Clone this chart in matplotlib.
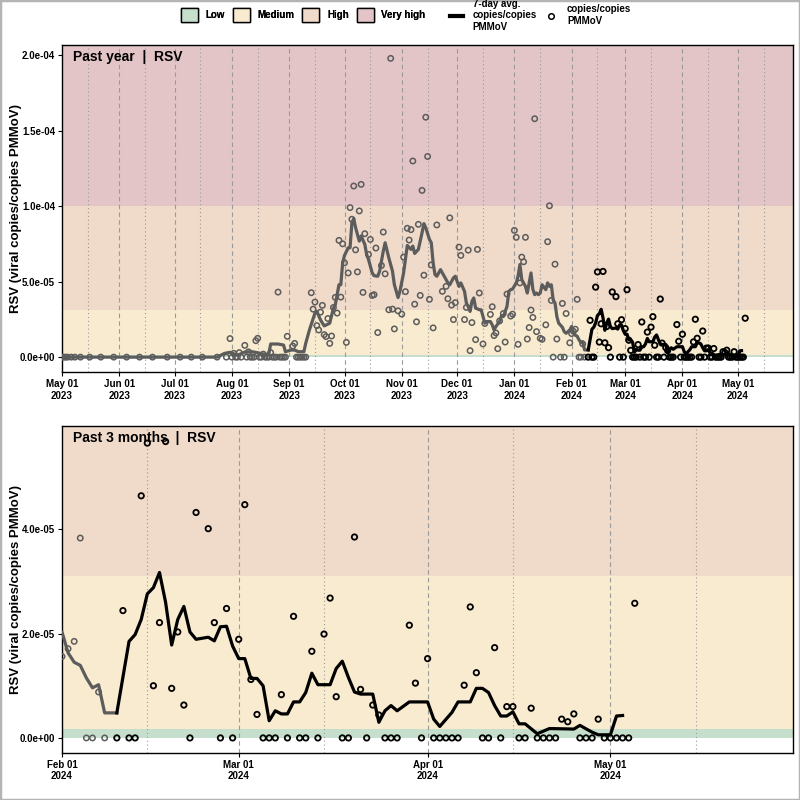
import datetime as dt
import numpy as np
import matplotlib
matplotlib.use("Agg")
import matplotlib.pyplot as plt
import matplotlib.dates as mdates
from matplotlib.patches import Patch, Rectangle
from matplotlib.lines import Line2D
from matplotlib.ticker import FuncFormatter

plt.rcParams['font.family'] = ['Liberation Sans', 'DejaVu Sans']
plt.rcParams['font.weight'] = 'bold'

START = dt.date(2023, 5, 1)     # day 0 of the offsets below
CUTOFF_DAY = 285                # 2024-02-10, start of "past 3 months"

# samples: day offset from START, copies/copies PMMoV (x 1e-6)
sample_day = [
    0, 1, 2, 3, 5, 7, 10, 15, 21, 28, 35, 42, 49, 57, 64, 70, 76, 84,
    89, 91, 92, 93, 94, 95, 96, 97, 99, 100, 101, 102, 103, 104, 105, 106,
    107, 108, 109, 110, 111, 112, 113, 114, 115, 116, 117, 118, 119, 120,
    121, 122, 125, 126, 127, 128, 129, 130, 131, 132,
    135, 136, 137, 138, 139, 140, 141, 142, 143, 144, 145, 146, 147, 148,
    149, 150, 151, 152, 153, 154, 155, 156, 157, 158, 159, 160, 161, 162,
    163, 164, 166, 167, 168, 169, 170, 171, 173, 174, 175, 177, 178, 179,
    180, 182, 184, 185, 186, 187, 188, 189, 190, 191, 192, 193, 194, 195,
    196, 197, 198, 199, 200, 201, 203, 206, 208, 209, 210, 211, 212, 213,
    215, 216, 218, 219, 220, 221, 222, 224, 225, 226, 228, 229, 232, 233,
    234, 235, 236, 237, 239, 240, 241, 243, 244, 245, 246, 247, 248, 249,
    250, 251, 252, 253, 254, 255, 256, 257, 259, 260, 262, 263, 264, 265,
    266, 267, 268, 270, 271, 272, 273, 275,
    276, 277, 278, 279, 280, 281, 282, 283, 285, 286, 287, 288, 289, 290,
    291, 292, 293, 294, 295, 296, 297, 298, 300, 301, 302, 303, 304, 305,
    306, 307, 308, 309, 310, 311, 312, 313, 314, 315, 316, 317, 318, 319,
    320, 321, 322, 323, 324, 325, 326, 327, 328, 329, 330, 331, 333, 334,
    335, 336, 337, 338, 339, 340, 341, 342, 343, 344, 345, 346, 347, 348,
    349, 350, 351, 352, 353, 354, 355, 356, 357, 358, 359, 360, 361, 362,
    363, 364, 365, 366, 367, 368, 369, 370,
]
sample_val = [
    0, 0, 0, 0, 0, 0, 0, 0, 0, 0, 0, 0, 0, 0, 0, 0, 0, 0,
    0, 12.3, 0, 2.5, 0, 0, 3.0, 0, 7.8, 0, 3.5, 0, 0, 0, 10.9, 12.5,
    0, 0, 2.0, 0, 0, 0, 3.0, 0, 0, 0, 43.1, 0, 0, 0,
    0, 13.8, 7.4, 9.1, 0, 0, 0, 0, 0, 0,
    42.7, 31.8, 36.5, 20.9, 18.0, 29.8, 34.3, 14.9, 13.6, 25.6, 9.1, 14.0, 32.9, 39.6,
    29.2, 77.4, 39.8, 75.1, 62.5, 9.8, 55.8, 99.1, 91.4, 113.4, 71.1, 56.5, 96.9, 114.5,
    42.9, 81.8, 68.0, 78.0, 40.9, 41.4, 72.3, 16.3, 60.7, 82.9, 55.2, 31.4, 198.0, 31.8,
    18.7, 30.7, 28.5, 66.3, 43.4, 85.4, 77.6, 84.5, 130.0, 35.1, 23.4, 88.0, 40.9, 110.5,
    54.3, 159.0, 133.0, 38.3, 61.1, 19.4, 87.6, 43.6, 46.9, 38.7, 92.3, 34.5, 24.9, 36.1,
    72.9, 67.4, 24.9, 32.9, 70.9, 4.3, 22.9, 11.6, 71.4, 42.5, 8.7, 22.3, 28.3, 33.4,
    14.3, 16.0, 5.6, 24.0, 28.9, 10.0, 41.8, 27.2, 28.5, 84.0, 79.4, 8.5, 49.2, 66.3,
    63.2, 79.4, 12.0, 19.6, 31.2, 26.3, 158.0, 16.9, 12.5, 11.8, 21.4, 76.5, 100.3, 37.6,
    0, 61.6, 12.0, 0, 35.6, 0, 28.9, 9.5,
    15.6, 17.1, 18.5, 38.3, 0, 0, 8.8, 0, 0, 24.4, 0, 0, 46.4, 56.5,
    10.0, 22.1, 56.8, 9.5, 20.3, 6.3, 0, 43.2, 40.1, 22.1, 0, 24.8, 0, 18.9,
    44.7, 11.2, 4.5, 0, 0, 0, 8.3, 0, 23.3, 0, 0, 16.6, 0, 19.9,
    26.8, 7.9, 0, 0, 38.5, 9.3, 0, 6.3, 4.4, 0, 0, 0, 21.6, 10.5,
    0, 15.2, 0, 0, 0, 0, 0, 10.1, 25.1, 12.5, 0, 0, 17.3, 0,
    6.0, 6.0, 0, 0, 5.7, 0, 0, 0, 0, 3.6, 3.1, 4.6, 0, 0,
    0, 3.6, 0, 0, 0, 0, 0, 25.8,
]

# 7-day average line: day offset from START, value (x 1e-6)
avg_day = [
    0, 84, 88, 91, 95, 99, 103, 106, 110, 112, 113, 117, 120, 121, 124, 126,
    128, 131, 132, 134, 137, 138, 140, 142, 145, 147, 148, 150, 151, 152, 153,
    155, 156, 157, 158, 159, 161, 162, 164, 165, 166, 167, 168, 169, 171, 172,
    174, 175, 177, 179, 180, 182, 183, 185, 186, 187, 189, 190, 191, 193, 195,
    196, 197, 199, 200, 201, 202, 203, 205, 206, 207, 209, 210, 212, 213, 215,
    216, 218, 219, 220, 221, 222, 223, 224, 226, 227, 228, 229, 230, 232, 233,
    234, 235, 237, 238, 239, 241, 242, 243, 244, 246, 247, 248, 249, 251, 252,
    253, 254, 255, 256, 257, 258, 259, 260, 262, 263, 264, 265, 266, 267, 268,
    269, 271, 272, 273, 275, 276, 277, 278, 279, 280, 281, 282, 283, 284, 285,
    287, 288, 289, 290, 291, 292, 293, 294, 295, 296, 297, 298, 300, 301, 302,
    303, 304, 305, 306, 307, 308, 309, 310, 311, 312, 313, 314, 315, 316, 317,
    318, 320, 321, 322, 323, 324, 325, 327, 328, 329, 330, 331, 333, 336, 337,
    338, 340, 341, 343, 344, 345, 346, 347, 348, 349, 350, 351, 352, 354, 356,
    360, 361, 363, 364, 366, 367, 368,
]
avg_val = [
    0, 0, 2.5, 3.2, 1.2, 3.4, 3.6, 2.9, 1.8, 2.0, 8.7, 8.7, 8.0, 3.6, 4.7, 4.7,
    3.6, 3.6, 9.2, 18.0, 29.2, 30.3, 24.7, 20.7, 22.5, 32.5, 34.7, 48.0, 48.0, 62.5, 67.4,
    72.5, 72.5, 89.1, 91.8, 85.8, 76.9, 80.3, 74.7, 68.0, 64.7, 60.3, 55.8, 54.0, 53.6, 56.9,
    70.3, 75.8, 65.8, 56.9, 48.0, 39.5, 43.6, 55.8, 64.7, 74.0, 71.4, 73.6, 68.7, 71.4, 82.5,
    88.5, 85.8, 78.0, 75.8, 62.5, 54.7, 53.6, 58.0, 55.8, 53.6, 49.2, 48.0, 52.5, 53.6, 46.9,
    49.2, 43.6, 35.8, 33.6, 30.3, 36.9, 39.2, 32.5, 31.4, 31.4, 26.9, 22.5, 23.6, 23.6, 21.4,
    18.0, 20.3, 23.6, 27.4, 26.9, 33.6, 43.6, 44.7, 45.1, 49.2, 53.6, 61.4, 51.4, 46.9, 42.5,
    49.2, 55.8, 45.0, 41.4, 42.5, 41.4, 42.5, 48.0, 44.7, 49.2, 46.9, 48.0, 38.0, 35.8, 26.9,
    22.5, 19.8, 16.9, 15.8, 18.0, 20.3, 16.3, 14.5, 13.9, 11.5, 9.6, 10.2, 4.8, 4.8, 4.8,
    18.5, 19.8, 22.7, 27.6, 28.8, 31.7, 26.0, 17.8, 22.7, 25.2, 20.3, 18.9, 19.3, 18.6, 21.3,
    21.4, 17.6, 15.2, 15.2, 11.4, 11.4, 10.0, 3.3, 5.2, 4.6, 4.6, 6.9, 6.9, 8.7, 12.4,
    10.2, 10.2, 13.3, 14.7, 11.6, 8.8, 8.4, 8.4, 3.0, 5.2, 6.2, 5.2, 6.9, 6.9, 3.6,
    2.2, 4.9, 6.9, 6.9, 9.5, 9.5, 8.7, 6.2, 4.2, 4.2, 5.0, 2.7, 2.7, 0.8, 1.8,
    1.7, 2.4, 1.1, 0.6, 0.6, 4.2, 4.3,
]

# risk bands (lower, upper) in copies/copies PMMoV
band_names = ["Low", "Medium", "High", "Very high"]
band_lo = [0, 1.7e-6, 3.1e-5, 1.0e-4]
band_hi = [1.7e-6, 3.1e-5, 1.0e-4, 1.0]
band_colors = ["#C6DFCD", "#F9EBCF", "#F0DAC9", "#E3C5C8"]

OLD_COLOR = "#5c5c5c"
NEW_COLOR = "black"


def to_dates(days):
    return np.array([START + dt.timedelta(days=int(d)) for d in days])


s_dates = to_dates(sample_day)
s_vals = np.array(sample_val) * 1e-6
a_dates = to_dates(avg_day)
a_vals = np.array(avg_val) * 1e-6
s_old = np.array(sample_day) < CUTOFF_DAY
a_old = np.array(avg_day) <= CUTOFF_DAY
a_new = np.array(avg_day) >= CUTOFF_DAY


def panel(ax, x0, x1, ylim, yticks, title):
    for lo, hi, c in zip(band_lo, band_hi, band_colors):
        ax.axhspan(lo, hi, color=c, lw=0, zorder=0)
    # month / mid-month guides
    d = dt.date(x0.year, x0.month, 1)
    while d <= x1:
        if d > x0:
            ax.axvline(d, color="#9a9a9a", lw=0.8, ls=(0, (4, 3)), zorder=1)
        mid = d.replace(day=15)
        if x0 < mid < x1:
            ax.axvline(mid, color="#9a9a9a", lw=0.8, ls=(0, (1, 2.5)), zorder=1)
        d = (d + dt.timedelta(days=32)).replace(day=1)

    ax.plot(a_dates[a_old], a_vals[a_old], color=OLD_COLOR, lw=2.3,
            solid_joinstyle="round", zorder=3)
    ax.plot(a_dates[a_new], a_vals[a_new], color=NEW_COLOR, lw=2.3,
            solid_joinstyle="round", zorder=4)
    ax.scatter(s_dates[s_old], s_vals[s_old], s=15, facecolors="none",
               edgecolors=OLD_COLOR, linewidths=1.1, zorder=3)
    ax.scatter(s_dates[~s_old], s_vals[~s_old], s=15, facecolors="none",
               edgecolors=NEW_COLOR, linewidths=1.3, zorder=4)

    ax.set_xlim(x0, x1)
    ax.set_ylim(*ylim)
    ax.set_yticks(yticks)
    ax.yaxis.set_major_formatter(FuncFormatter(lambda v, p: f"{v:.1e}"))
    ax.xaxis.set_major_locator(mdates.MonthLocator(bymonthday=1))
    ax.xaxis.set_major_formatter(mdates.DateFormatter("%b %d\n%Y"))
    ax.tick_params(labelsize=7, length=3, width=0.8, pad=2)
    for sp in ax.spines.values():
        sp.set_linewidth(1.0)
    ax.set_ylabel("RSV (viral copies/copies PMMoV)", fontsize=9.5,
                  fontweight="bold")
    ax.yaxis.set_label_coords(-0.055, 0.5)
    ax.text(0.015, 0.985, title, transform=ax.transAxes, ha="left", va="top",
            fontsize=10, fontweight="bold", zorder=6)


fig = plt.figure(figsize=(8, 8), dpi=100)
ax1 = fig.add_axes([0.0775, 0.535, 0.914, 0.409])
ax2 = fig.add_axes([0.0775, 0.059, 0.914, 0.409])

panel(ax1, dt.date(2023, 5, 1), dt.date(2024, 5, 31), (-9.85e-6, 2.07e-4),
      [0, 5e-5, 1e-4, 1.5e-4, 2e-4], "Past year  |  RSV")
panel(ax2, dt.date(2024, 2, 1), dt.date(2024, 5, 31), (-2.85e-6, 5.985e-5),
      [0, 2e-5, 4e-5], "Past 3 months  |  RSV")

band_handles = [Patch(facecolor=c, edgecolor="black", linewidth=1.0, label=n)
                for n, c in zip(band_names, band_colors)]
leg1 = fig.legend(handles=band_handles, loc="center", bbox_to_anchor=(0.379, 0.981),
                  ncol=4, frameon=False, fontsize=7, handlelength=1.75,
                  handleheight=1.75, columnspacing=0.8, handletextpad=0.8)
fig.add_artist(leg1)
series_handles = [
    Line2D([0], [0], color="black", lw=3, label="7-day avg.\ncopies/copies\nPMMoV"),
    Line2D([0], [0], marker="o", ls="", mfc="none", mec="black", mew=1.1,
           markersize=4, label="copies/copies\nPMMoV"),
]
fig.legend(handles=series_handles, loc="center", bbox_to_anchor=(0.676, 0.981),
           ncol=2, frameon=False, fontsize=7, handlelength=1.3,
           columnspacing=0.8, handletextpad=1.0, labelspacing=0.1)

fig.add_artist(Rectangle((0, 0), 1, 1, transform=fig.transFigure, fill=False,
                         edgecolor="#b4b4b4", lw=2.5))

fig.savefig("out.png", dpi=100)
